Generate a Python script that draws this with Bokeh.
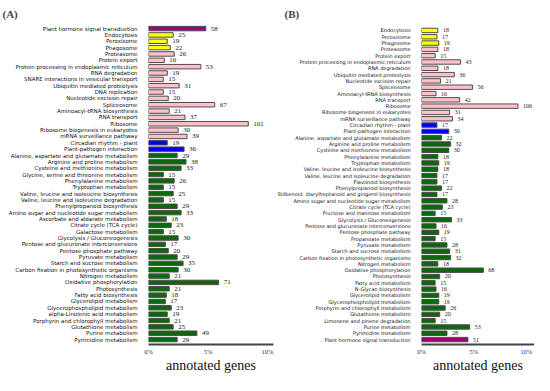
from bokeh.plotting import figure
from bokeh.layouts import row
from bokeh.models import FixedTicker, ColumnDataSource, Range1d
from bokeh.embed import file_html
from bokeh.resources import INLINE
from bokeh.core.properties import value

# ---------------- data ----------------
cats_a = [
    "Plant hormone signal transduction", "Endocytosis", "Peroxisome", "Phagosome",
    "Proteasome", "Protein export", "Protein processing in endoplasmic reticulum",
    "RNA degradation", "SNARE interactions in vesicular transport",
    "Ubiquitin mediated proteolysis", "DNA replication", "Nucleotide excision repair",
    "Spliceosome", "Aminoacyl-tRNA biosynthesis", "RNA transport", "Ribosome",
    "Ribosome biogenesis in eukaryotes", "mRNA surveillance pathway",
    "Circadian rhythm - plant", "Plant-pathogen interaction",
    "Alanine, aspartate and glutamate metabolism", "Arginine and proline metabolism",
    "Cysteine and methionine metabolism", "Glycine, serine and threonine metabolism",
    "Phenylalanine metabolism", "Tryptophan metabolism",
    "Valine, leucine and isoleucine biosynthesis", "Valine, leucine and isoleucine degradation",
    "Phenylpropanoid biosynthesis", "Amino sugar and nucleotide sugar metabolism",
    "Ascorbate and aldarate metabolism", "Citrate cycle (TCA cycle)", "Galactose metabolism",
    "Glycolysis / Gluconeogenesis", "Pentose and glucuronate interconversions",
    "Pentose phosphate pathway", "Pyruvate metabolism", "Starch and sucrose metabolism",
    "Carbon fixation in photosynthetic organisms", "Nitrogen metabolism",
    "Oxidative phosphorylation", "Photosynthesis", "Fatty acid biosynthesis",
    "Glycerolipid metabolism", "Glycerophospholipid metabolism",
    "alpha-Linolenic acid metabolism", "Porphyrin and chlorophyll metabolism",
    "Glutathione metabolism", "Purine metabolism", "Pyrimidine metabolism",
]
counts_a = [58, 25, 19, 22, 26, 16, 53, 19, 15, 31, 15, 20, 67, 21, 37, 101, 30, 39,
            19, 36, 29, 38, 33, 15, 26, 15, 25, 15, 29, 33, 18, 23, 15, 30, 17, 20,
            29, 35, 30, 21, 71, 21, 18, 17, 23, 19, 21, 25, 49, 29]
groups_a = (["hormone"] + ["cellular"] * 3 + ["genetic"] * 14 + ["organismal"] * 2
            + ["metabolism"] * 30)
total_a = 1205

cats_b = [
    "Endocytosis", "Peroxisome", "Phagosome", "Proteasome", "Protein export",
    "Protein processing in endoplasmic reticulum", "RNA degradation",
    "Ubiquitin mediated proteolysis", "Nucleotide excision repair", "Spliceosome",
    "Aminoacyl-tRNA biosynthesis", "RNA transport", "Ribosome",
    "Ribosome biogenesis in eukaryotes", "mRNA surveillance pathway",
    "Circadian rhythm - plant", "Plant-pathogen interaction",
    "Alanine, aspartate and glutamate metabolism", "Arginine and proline metabolism",
    "Cysteine and methionine metabolism", "Phenylalanine metabolism",
    "Tryptophan metabolism", "Valine, leucine and isoleucine biosynthesis",
    "Valine, leucine and isoleucine degradation", "Flavonoid biosynthesis",
    "Phenylpropanoid biosynthesis", "Stilbenoid, diarylheptanoid and gingerol biosynthesis",
    "Amino sugar and nucleotide sugar metabolism", "Citrate cycle (TCA cycle)",
    "Fructose and mannose metabolism", "Glycolysis / Gluconeogenesis",
    "Pentose and glucuronate interconversions", "Pentose phosphate pathway",
    "Propanoate metabolism", "Pyruvate metabolism", "Starch and sucrose metabolism",
    "Carbon fixation in photosynthetic organisms", "Nitrogen metabolism",
    "Oxidative phosphorylation", "Photosynthesis", "Fatty acid metabolism",
    "N-Glycan biosynthesis", "Glycerolipid metabolism", "Glycerophospholipid metabolism",
    "Porphyrin and chlorophyll metabolism", "Glutathione metabolism",
    "Limonene and pinene degradation", "Purine metabolism", "Pyrimidine metabolism",
    "Plant hormone signal transduction",
]
counts_b = [18, 17, 19, 18, 15, 43, 18, 36, 21, 56, 16, 42, 106, 31, 34, 17, 30,
            22, 32, 30, 18, 19, 18, 17, 17, 22, 17, 28, 23, 15, 33, 16, 19, 15, 28,
            31, 32, 18, 68, 20, 15, 16, 19, 19, 26, 20, 15, 53, 28, 51]
groups_b = (["cellular"] * 3 + ["genetic"] * 12 + ["organismal"] * 2
            + ["metabolism"] * 32 + ["hormone"])
total_b = 1150

x_ticks = [0, 5, 10]
x_tick_labels = {0: "0%", 5: "5%", 10: "10%"}
x_title = "annotated genes"

palette = {"hormone": "#9C0078", "cellular": "#FFFF00", "genetic": "#FFC0CB",
           "organismal": "#0000FF", "metabolism": "#0A6A0A"}


def panel(cats, counts, groups, total, width, left, right, xend, ytop,
          label_size, num_size, panel_label, title_offset):
    n = len(cats)
    ys = [n - 1 - i for i in range(n)]
    pct = [c / total * 100 for c in counts]
    src = ColumnDataSource(dict(y=ys, pct=pct, cnt=[str(c) for c in counts],
                                color=[palette[g] for g in groups]))
    p = figure(width=width, height=375, output_backend="svg", toolbar_location=None,
               x_range=Range1d(0, xend), y_range=Range1d(-0.78, ytop),
               min_border_left=left, min_border_right=right,
               min_border_top=23, min_border_bottom=27)
    p.outline_line_color = None
    p.xgrid.visible = False
    p.ygrid.visible = False
    p.hbar(y="y", left=0, right="pct", height=0.7, fill_color="color",
           line_color="#4d4d4d", line_width=1, source=src)
    p.text(x="pct", y="y", text="cnt", source=src, x_offset=5,
           text_baseline="middle", text_align="left",
           text_font=value("Liberation Serif"), text_font_size=num_size,
           text_color="#222222")
    # panel label as title
    p.title.text = panel_label
    p.title.align = "left"
    p.title.offset = title_offset
    p.title.standoff = 7
    p.title.text_font = "Liberation Serif"
    p.title.text_font_style = "bold"
    p.title.text_font_size = "11px"
    # x axis
    xa = p.xaxis[0]
    xa.ticker = FixedTicker(ticks=x_ticks)
    xa.major_label_overrides = x_tick_labels
    xa.major_tick_out = 0
    xa.major_tick_in = 0
    xa.minor_tick_out = 0
    xa.minor_tick_in = 0
    xa.axis_line_color = "#444444"
    xa.axis_line_width = 2
    xa.major_label_standoff = 3
    xa.major_label_text_font = "Liberation Serif"
    xa.major_label_text_font_size = "6.5px"
    xa.major_label_text_color = "#333333"
    xa.axis_label = x_title
    xa.axis_label_standoff = 0
    xa.axis_label_text_font = "Liberation Serif"
    xa.axis_label_text_font_style = "normal"
    xa.axis_label_text_font_size = "14px"
    xa.axis_label_text_color = "#111111"
    # y axis
    ya = p.yaxis[0]
    ya.ticker = FixedTicker(ticks=ys)
    ya.major_label_overrides = {y: c for y, c in zip(ys, cats)}
    ya.axis_line_color = None
    ya.major_tick_out = 0
    ya.major_tick_in = 0
    ya.minor_tick_out = 0
    ya.minor_tick_in = 0
    ya.major_label_standoff = 11
    ya.major_label_text_font = "DejaVu Sans"
    ya.major_label_text_font_size = label_size
    ya.major_label_text_color = "#111111"
    return p


pa = panel(cats_a, counts_a, groups_a, total_a, 274, 148, 1, 10.5, 49.8,
           "5.5px", "7px", "(A)", -146)
pb = panel(cats_b, counts_b, groups_b, total_b, 260, 140, 0, 10.8, 50.1,
           "5px", "6px", "(B)", -137)

layout = row(pa, pb)
open("out.html", "w").write(file_html(layout, INLINE))
